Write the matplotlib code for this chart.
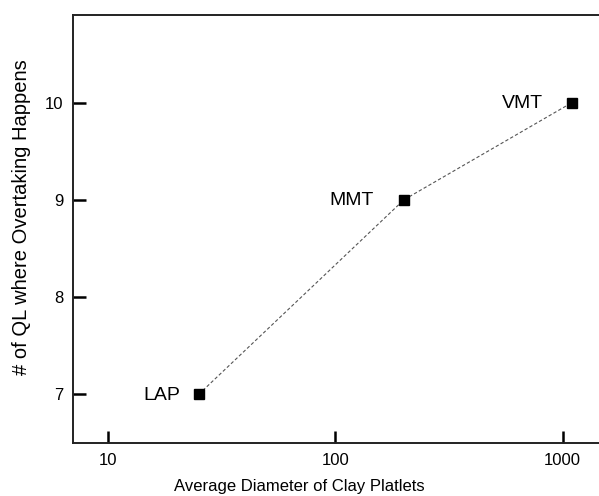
import matplotlib
matplotlib.use("Agg")
import matplotlib.pyplot as plt
from matplotlib.ticker import FixedLocator, NullLocator

plt.rcParams['font.family'] = ['Liberation Sans', 'DejaVu Sans']

clays = ["LAP", "MMT", "VMT"]
diameters = [25, 200, 1100]
ql_overtake = [7, 9, 10]
x_ticks = [10, 100, 1000]
x_tick_labels = ["10", "100", "1000"]
y_ticks = [7, 8, 9, 10]

label_offsets_pt = [-13.5, -22.0, -21.0]

fig = plt.figure(figsize=(5.99, 4.96), dpi=100)
ax = fig.add_axes([73/599, 53/496, 532/599, 428/496])

ax.plot(diameters, ql_overtake, linestyle=(0, (3, 2)), color='#555555', linewidth=0.8, zorder=2)
ax.plot(diameters, ql_overtake, linestyle='none', marker='s', markersize=6.5,
        color='black', zorder=3)

for name, xv, yv, off in zip(clays, diameters, ql_overtake, label_offsets_pt):
    ax.annotate(name, (xv, yv), xytext=(off, -0.5), textcoords='offset points',
                ha='right', va='center', fontsize=14)

ax.set_xscale('log')
ax.set_xlim(6.99, 1536)
ax.set_ylim(6.5, 10.9)
ax.xaxis.set_major_locator(FixedLocator(x_ticks))
ax.xaxis.set_minor_locator(NullLocator())
ax.set_xticks(x_ticks)
ax.set_xticklabels(x_tick_labels)
ax.set_yticks(y_ticks)
ax.tick_params(axis='both', which='major', direction='in', length=9, width=1.8,
               color='black', labelsize=12, pad=7,
               bottom=True, left=True, top=False, right=False)
ax.tick_params(which='minor', length=0)

for s in ['left', 'bottom', 'top', 'right']:
    ax.spines[s].set_linewidth(1.4)
    ax.spines[s].set_color('#222222')

ax.set_xlabel("Average Diameter of Clay Platlets", fontsize=12)
ax.set_ylabel("# of QL where Overtaking Happens", fontsize=14.5)
ax.xaxis.set_label_coords((299 - 73) / 532, (443 - 487) / 428)
ax.xaxis.label.set_va('center')
ax.yaxis.set_label_coords((22 - 73) / 532, (443 - 217) / 428)
ax.yaxis.label.set_va('center')

fig.savefig("out.png", dpi=100)
